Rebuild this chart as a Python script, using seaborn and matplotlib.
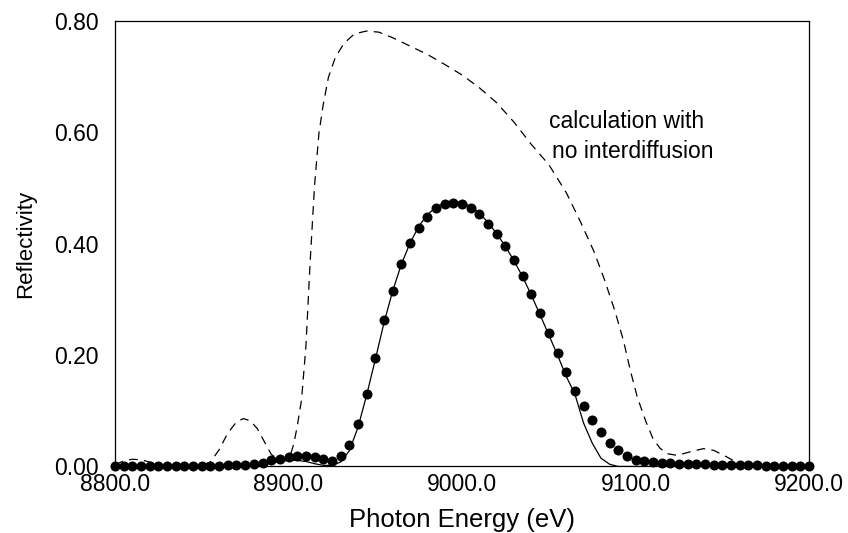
import numpy as np
import matplotlib
matplotlib.use("Agg")
import matplotlib.pyplot as plt
import seaborn as sns
from matplotlib.ticker import MultipleLocator, FormatStrFormatter

# measured points, one every 5 eV from 8800 to 9200
energy = np.arange(8800, 9201, 5)
measured = [
    0.001, 0.001, 0.001, 0.001, 0.001, 0.001, 0.001, 0.001, 0.001, 0.001,
    0.001, 0.001, 0.001, 0.002, 0.002, 0.003, 0.004, 0.007, 0.011, 0.014,
    0.017, 0.019, 0.019, 0.017, 0.013, 0.010, 0.018, 0.038, 0.076, 0.131,
    0.194, 0.263, 0.315, 0.363, 0.401, 0.429, 0.448, 0.464, 0.472, 0.474,
    0.472, 0.465, 0.453, 0.436, 0.417, 0.396, 0.371, 0.342, 0.310, 0.275,
    0.239, 0.203, 0.169, 0.136, 0.108, 0.084, 0.062, 0.043, 0.029, 0.018,
    0.012, 0.009, 0.008, 0.007, 0.006, 0.005, 0.005, 0.004, 0.004, 0.003,
    0.003, 0.003, 0.002, 0.002, 0.002, 0.001, 0.001, 0.001, 0.001, 0.001,
    0.001,
]
# fitted curve (with interdiffusion), same energies
fit = [
    0.000, 0.000, 0.000, 0.000, 0.000, 0.000, 0.000, 0.000, 0.000, 0.000,
    0.000, 0.000, 0.000, 0.000, 0.000, 0.000, 0.001, 0.003, 0.006, 0.009,
    0.011, 0.011, 0.009, 0.005, 0.002, 0.002, 0.008, 0.028, 0.070, 0.128,
    0.192, 0.258, 0.315, 0.363, 0.401, 0.431, 0.452, 0.466, 0.474, 0.476,
    0.474, 0.467, 0.455, 0.438, 0.418, 0.395, 0.369, 0.340, 0.307, 0.272,
    0.236, 0.200, 0.162, 0.130, 0.078, 0.042, 0.015, 0.004, 0.000, 0.000,
    0.000, 0.000, 0.000, 0.000, 0.000, 0.000, 0.000, 0.000, 0.000, 0.000,
    0.000, 0.000, 0.000, 0.000, 0.000, 0.000, 0.000, 0.000, 0.000, 0.000,
    0.000,
]
# calculation with no interdiffusion
calc_energy = [
    8800, 8805, 8810, 8815, 8820, 8825, 8830, 8840, 8850, 8855, 8860, 8865,
    8870, 8874, 8878, 8882, 8886, 8890, 8894, 8898, 8901, 8903, 8905, 8907.5,
    8910, 8912.5, 8915, 8917.5, 8920, 8923, 8927, 8932, 8938, 8945, 8952,
    8960, 8970, 8980, 8990, 9000, 9010, 9020, 9030, 9040, 9050, 9060, 9068,
    9076, 9082, 9088, 9093, 9097, 9101, 9106, 9110, 9114, 9118, 9124, 9131,
    9139, 9145, 9152, 9158, 9165, 9175, 9200,
]
calc_refl = [
    0.003, 0.010, 0.013, 0.012, 0.008, 0.004, 0.002, 0.001, 0.002, 0.008,
    0.030, 0.060, 0.080, 0.086, 0.082, 0.068, 0.045, 0.022, 0.012, 0.012,
    0.020, 0.040, 0.072, 0.120, 0.215, 0.370, 0.505, 0.598, 0.650, 0.699,
    0.735, 0.760, 0.777, 0.782, 0.780, 0.770, 0.755, 0.740, 0.722, 0.703,
    0.680, 0.653, 0.618, 0.578, 0.542, 0.492, 0.441, 0.386, 0.336, 0.280,
    0.226, 0.172, 0.124, 0.080, 0.050, 0.033, 0.023, 0.020, 0.026, 0.032,
    0.029, 0.018, 0.008, 0.002, 0.001, 0.001,
]

sns.set_style("white")
plt.rcParams['font.family'] = ['Liberation Sans', 'DejaVu Sans']
plt.rcParams['text.color'] = 'black'
plt.rcParams['axes.labelcolor'] = 'black'

fig = plt.figure(figsize=(8.48, 5.33), dpi=100)
ax = fig.add_axes([0.1356, 0.1248, 0.8186, 0.8358])

sns.lineplot(x=calc_energy, y=calc_refl, ax=ax, color='black', lw=0.9,
             linestyle=(0, (7, 5)), estimator=None)
sns.lineplot(x=energy, y=fit, ax=ax, color='black', lw=0.9, estimator=None)
sns.scatterplot(x=energy, y=measured, ax=ax, color='black', s=52,
                linewidth=0, zorder=3, clip_on=False)

ax.set_xlim(8800, 9200)
ax.set_ylim(0, 0.8)
ax.xaxis.set_major_locator(MultipleLocator(100))
ax.xaxis.set_minor_locator(MultipleLocator(50))
ax.yaxis.set_major_locator(MultipleLocator(0.2))
ax.yaxis.set_minor_locator(MultipleLocator(0.1))
ax.xaxis.set_major_formatter(FormatStrFormatter('%.1f'))
ax.yaxis.set_major_formatter(FormatStrFormatter('%.2f'))
ax.tick_params(which='both', direction='in', top=False, right=False,
               width=0.8, colors='black', labelsize=16.5)
ax.tick_params(axis='y', which='both', pad=12)
ax.tick_params(axis='x', which='both', pad=5)
ax.tick_params(which='major', length=5)
ax.tick_params(which='minor', length=3)
for s in ax.spines.values():
    s.set_color('black')
    s.set_linewidth(0.9)

ax.set_xlabel('Photon Energy (eV)', fontsize=18.5, labelpad=8)
ax.set_ylabel('Reflectivity', fontsize=16, labelpad=13,
              family=['Liberation Sans Narrow', 'Liberation Sans', 'DejaVu Sans'])

ax.text(9050, 0.62, 'calculation with', fontsize=16.5, va='center', ha='left')
ax.text(9052, 0.565, 'no interdiffusion', fontsize=16.5, va='center', ha='left')

fig.savefig('out.png', dpi=100)
